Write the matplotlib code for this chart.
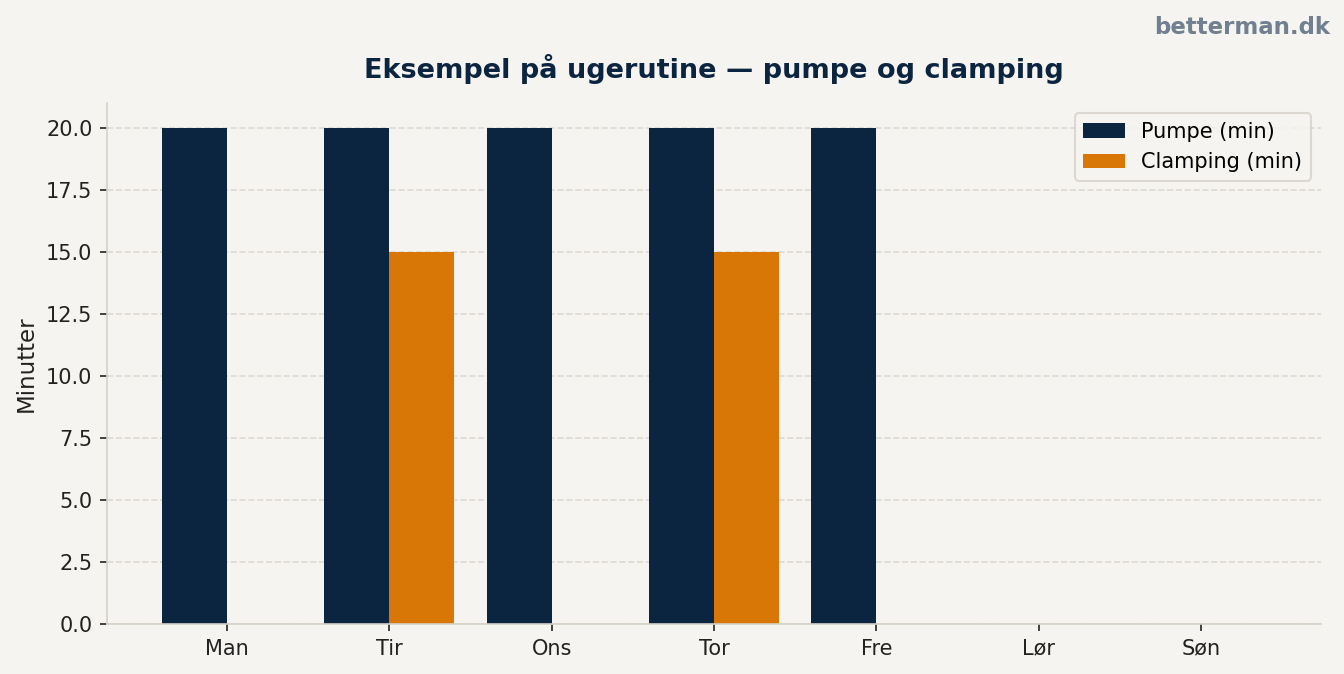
import matplotlib
matplotlib.use('Agg')

import numpy as np
import matplotlib.pyplot as plt

days = ["Man", "Tir", "Ons", "Tor", "Fre", "Lør", "Søn"]
pumpe = [20, 20, 20, 20, 20, 0, 0]
clamping = [0, 15, 0, 15, 0, 0, 0]

navy = "#0b2540"
orange = "#d97706"
bg = "#f5f4f0"

fig, ax = plt.subplots(figsize=(8.96, 4.494), dpi=150)
fig.patch.set_facecolor(bg)
ax.set_facecolor(bg)

x = np.arange(len(days))
w = 0.4
ax.bar(x - w / 2, pumpe, w, color=navy, label="Pumpe (min)")
ax.bar(x + w / 2, clamping, w, color=orange, label="Clamping (min)")

ax.set_xticks(x)
ax.set_xticklabels(days)
ax.set_ylabel("Minutter", fontsize=11, color="#222222")
ax.set_title("Eksempel på ugerutine — pumpe og clamping", fontsize=13,
             fontweight="bold", color=navy, pad=12)

ax.grid(axis="y", linestyle="--", color="#dcd8d0", linewidth=0.8, alpha=0.9)
ax.set_axisbelow(True)
for s in ["top", "right"]:
    ax.spines[s].set_visible(False)
for s in ["left", "bottom"]:
    ax.spines[s].set_color("#d6d0c8")
ax.tick_params(colors="#222222", labelsize=10)

leg = ax.legend(fontsize=10, facecolor=bg, edgecolor="#d6d0c8", loc="upper right")

# watermark
fig.text(0.99, 0.976, "betterman.dk", ha="right", va="top", fontsize=11,
         fontweight="bold", color="#708090")

plt.subplots_adjust(left=0.0796, right=0.983, top=0.847, bottom=0.0742)
plt.savefig("out.png", facecolor=bg)
